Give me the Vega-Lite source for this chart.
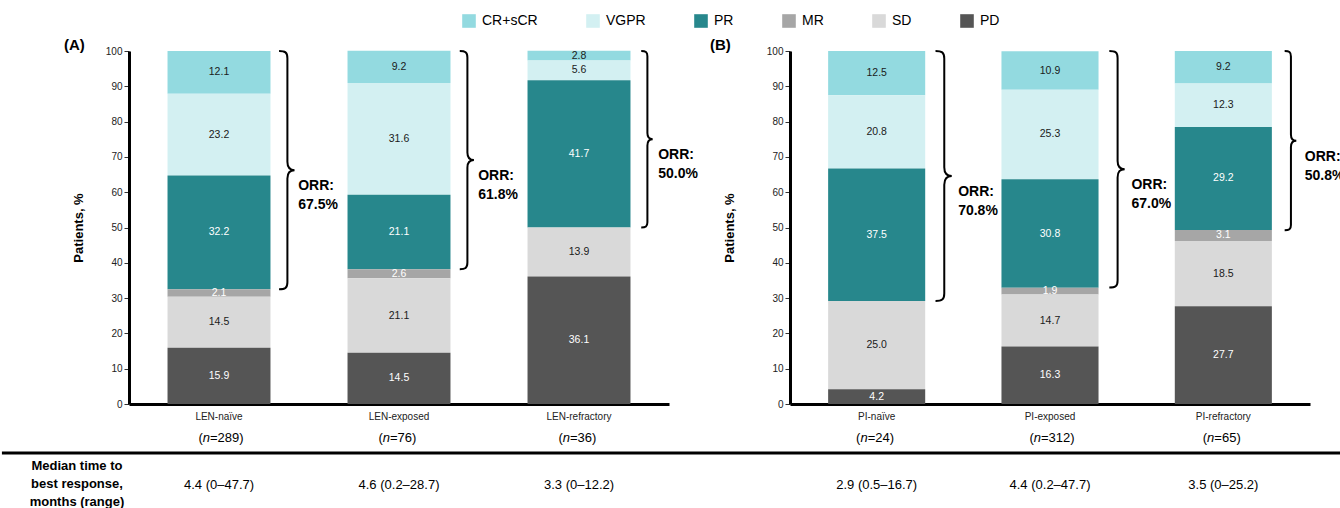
{
  "$schema": "https://vega.github.io/schema/vega-lite/v6.json",
  "padding": {"left": 0, "top": 14, "right": 0, "bottom": 0},
  "background": "white",
  "bounds": "flush",
  "spacing": 121,
  "config": {
    "font": "Liberation Sans",
    "view": {"stroke": null},
    "axis": {"labelFont": "Liberation Sans", "titleFont": "Liberation Sans", "grid": false},
    "axisY": {"domainWidth": 3, "domainColor": "black", "tickSize": 5, "tickColor": "#333", "tickWidth": 1, "labelFontSize": 10, "labelColor": "#222", "labelPadding": 2, "titleFontSize": 13, "titleFontWeight": "bold", "titleColor": "black", "tickCount": 11, "labelOverlap": false, "grid": false},
    "axisX": {"domainWidth": 3, "domainColor": "black", "ticks": false, "labelFontSize": 10, "labelPadding": 7, "labelColor": "#222", "labelAngle": 0, "grid": false},
    "legend": {"labelFont": "Liberation Sans"}
  },
  "resolve": {"scale": {"color": "shared", "size": "shared"}},
  "datasets": {
    "resp": [
      {"panel": "A", "group": "LEN-naïve", "cat": "CR+sCR", "value": 12.1},
      {"panel": "A", "group": "LEN-naïve", "cat": "VGPR", "value": 23.2},
      {"panel": "A", "group": "LEN-naïve", "cat": "PR", "value": 32.2},
      {"panel": "A", "group": "LEN-naïve", "cat": "MR", "value": 2.1},
      {"panel": "A", "group": "LEN-naïve", "cat": "SD", "value": 14.5},
      {"panel": "A", "group": "LEN-naïve", "cat": "PD", "value": 15.9},
      {"panel": "A", "group": "LEN-exposed", "cat": "CR+sCR", "value": 9.2},
      {"panel": "A", "group": "LEN-exposed", "cat": "VGPR", "value": 31.6},
      {"panel": "A", "group": "LEN-exposed", "cat": "PR", "value": 21.1},
      {"panel": "A", "group": "LEN-exposed", "cat": "MR", "value": 2.6},
      {"panel": "A", "group": "LEN-exposed", "cat": "SD", "value": 21.1},
      {"panel": "A", "group": "LEN-exposed", "cat": "PD", "value": 14.5},
      {"panel": "A", "group": "LEN-refractory", "cat": "CR+sCR", "value": 2.8},
      {"panel": "A", "group": "LEN-refractory", "cat": "VGPR", "value": 5.6},
      {"panel": "A", "group": "LEN-refractory", "cat": "PR", "value": 41.7},
      {"panel": "A", "group": "LEN-refractory", "cat": "SD", "value": 13.9},
      {"panel": "A", "group": "LEN-refractory", "cat": "PD", "value": 36.1},
      {"panel": "B", "group": "PI-naïve", "cat": "CR+sCR", "value": 12.5},
      {"panel": "B", "group": "PI-naïve", "cat": "VGPR", "value": 20.8},
      {"panel": "B", "group": "PI-naïve", "cat": "PR", "value": 37.5},
      {"panel": "B", "group": "PI-naïve", "cat": "SD", "value": 25.0},
      {"panel": "B", "group": "PI-naïve", "cat": "PD", "value": 4.2},
      {"panel": "B", "group": "PI-exposed", "cat": "CR+sCR", "value": 10.9},
      {"panel": "B", "group": "PI-exposed", "cat": "VGPR", "value": 25.3},
      {"panel": "B", "group": "PI-exposed", "cat": "PR", "value": 30.8},
      {"panel": "B", "group": "PI-exposed", "cat": "MR", "value": 1.9},
      {"panel": "B", "group": "PI-exposed", "cat": "SD", "value": 14.7},
      {"panel": "B", "group": "PI-exposed", "cat": "PD", "value": 16.3},
      {"panel": "B", "group": "PI-refractory", "cat": "CR+sCR", "value": 9.2},
      {"panel": "B", "group": "PI-refractory", "cat": "VGPR", "value": 12.3},
      {"panel": "B", "group": "PI-refractory", "cat": "PR", "value": 29.2},
      {"panel": "B", "group": "PI-refractory", "cat": "MR", "value": 3.1},
      {"panel": "B", "group": "PI-refractory", "cat": "SD", "value": 18.5},
      {"panel": "B", "group": "PI-refractory", "cat": "PD", "value": 27.7}
    ],
    "groups": [
      {"panel": "A", "group": "LEN-naïve", "n": "289", "orr": 67.5, "median": "4.4 (0–47.7)"},
      {"panel": "A", "group": "LEN-exposed", "n": "76", "orr": 61.8, "median": "4.6 (0.2–28.7)"},
      {"panel": "A", "group": "LEN-refractory", "n": "36", "orr": 50.0, "median": "3.3 (0–12.2)"},
      {"panel": "B", "group": "PI-naïve", "n": "24", "orr": 70.8, "median": "2.9 (0.5–16.7)"},
      {"panel": "B", "group": "PI-exposed", "n": "312", "orr": 67.0, "median": "4.4 (0.2–47.7)"},
      {"panel": "B", "group": "PI-refractory", "n": "65", "orr": 50.8, "median": "3.5 (0–25.2)"}
    ],
    "rowlabel": [{"label": "Median time to\nbest response,\nmonths (range)"}]
  },
  "hconcat": [
    {
      "width": 540,
      "height": 353,
      "title": {"text": "(A)", "anchor": "start", "frame": "group", "dx": -65, "dy": 7, "fontSize": 15, "fontWeight": "bold", "color": "black", "font": "Liberation Sans", "offset": 0},
      "resolve": {"axis": {"x": "independent", "y": "independent"}},
      "layer": [
        {
          "data": {"name": "resp"},
          "transform": [
            {"filter": "datum.panel === 'A'"},
            {"calculate": "indexof(['PD','SD','MR','PR','VGPR','CR+sCR'], datum.cat)", "as": "rank"},
            {"stack": "value", "groupby": ["group"], "sort": [{"field": "rank", "order": "ascending"}], "as": ["y0", "y1"]}
          ],
          "mark": {"type": "bar", "width": {"band": 0.572}},
          "encoding": {
            "x": {"field": "group", "type": "nominal", "title": null,
                  "scale": {"domain": ["LEN-naïve", "LEN-exposed", "LEN-refractory"], "paddingInner": 0, "paddingOuter": 0},
                  "axis": {"domain": true, "domainWidth": 3, "domainColor": "black", "ticks": false, "labelFontSize": 10, "labelPadding": 7, "labelColor": "#222", "labelAngle": 0, "title": null}},
            "y": {"field": "y0", "type": "quantitative", "title": "Patients, %",
                  "scale": {"domain": [0, 100], "nice": false},
                  "axis": {"title": "Patients, %", "titlePadding": 20, "values": [0, 10, 20, 30, 40, 50, 60, 70, 80, 90, 100], "tickCount": 11, "labelOverlap": false, "domainWidth": 3}},
            "y2": {"field": "y1"},
            "color": {"field": "cat", "type": "nominal",
                      "scale": {"domain": ["CR+sCR", "VGPR", "PR", "MR", "SD", "PD"], "range": ["#93dae0", "#d3f0f2", "#27878c", "#a6a6a6", "#d9d9d9", "#555555"]},
                      "legend": {"orient": "none", "legendX": 333, "legendY": -37, "direction": "horizontal", "columns": 6, "title": null, "symbolType": "square", "symbolSize": 185, "symbolStrokeWidth": 0, "labelFontSize": 14, "labelColor": "black", "labelOffset": 6, "columnPadding": 48}}
          }
        },
        {
          "data": {"name": "resp"},
          "transform": [
            {"filter": "datum.panel === 'A'"},
            {"calculate": "indexof(['PD','SD','MR','PR','VGPR','CR+sCR'], datum.cat)", "as": "rank"},
            {"stack": "value", "groupby": ["group"], "sort": [{"field": "rank", "order": "ascending"}], "as": ["y0", "y1"]},
            {"calculate": "(datum.y0 + datum.y1) / 2", "as": "ymid"}
          ],
          "mark": {"type": "text", "fontSize": 10.5, "baseline": "middle"},
          "encoding": {
            "x": {"field": "group", "type": "nominal", "axis": null, "scale": {"domain": ["LEN-naïve", "LEN-exposed", "LEN-refractory"], "paddingInner": 0, "paddingOuter": 0}},
            "y": {"field": "ymid", "type": "quantitative", "axis": null, "scale": {"domain": [0, 100], "nice": false}},
            "text": {"field": "value", "type": "quantitative", "format": ".1f"},
            "color": {"condition": {"test": "datum.cat === 'PR' || datum.cat === 'PD' || datum.cat === 'MR'", "value": "white"}, "value": "#1a1a1a"}
          }
        },
        {
          "data": {"name": "groups"},
          "transform": [
            {"filter": "datum.panel === 'A'"},
            {"calculate": "100 - datum.orr / 2", "as": "mid"}
          ],
          "mark": {"type": "point", "shape": "M-0.07,-1 C-0.02,-1 0,-0.99 0,-0.94 L0,-0.07 C0,-0.02 0.02,0 0.06,0 C0.02,0 0,0.02 0,0.07 L0,0.94 C0,0.99 -0.02,1 -0.07,1", "filled": false, "color": "black", "strokeWidth": 2, "opacity": 1},
          "encoding": {
            "x": {"field": "group", "type": "nominal", "axis": null, "bandPosition": 0.88, "scale": {"domain": ["LEN-naïve", "LEN-exposed", "LEN-refractory"], "paddingInner": 0, "paddingOuter": 0}},
            "y": {"field": "mid", "type": "quantitative", "axis": null, "scale": {"domain": [0, 100], "nice": false}},
            "size": {"field": "orr", "type": "quantitative", "scale": {"type": "pow", "exponent": 2, "domain": [0, 100], "range": [0, 124609]}, "legend": null}
          }
        },
        {
          "data": {"name": "groups"},
          "transform": [
            {"filter": "datum.panel === 'A'"},
            {"calculate": "100 - datum.orr / 2", "as": "mid"},
            {"calculate": "'ORR:\\n' + format(datum.orr, '.1f') + '%'", "as": "orrlab"}
          ],
          "mark": {"type": "text", "align": "left", "baseline": "top", "dy": 9, "fontSize": 14, "fontWeight": "bold", "lineBreak": "\n", "lineHeight": 19, "color": "black"},
          "encoding": {
            "x": {"field": "group", "type": "nominal", "axis": null, "bandPosition": 0.94, "scale": {"domain": ["LEN-naïve", "LEN-exposed", "LEN-refractory"], "paddingInner": 0, "paddingOuter": 0}},
            "y": {"field": "mid", "type": "quantitative", "axis": null, "scale": {"domain": [0, 100], "nice": false}},
            "text": {"field": "orrlab"}
          }
        },
        {
          "data": {"name": "groups"},
          "transform": [{"filter": "datum.panel === 'A'"}],
          "mark": {"type": "text", "align": "right", "baseline": "middle", "dx": -16.2, "fontSize": 13, "color": "black"},
          "encoding": {
            "x": {"field": "group", "type": "nominal", "axis": null, "scale": {"domain": ["LEN-naïve", "LEN-exposed", "LEN-refractory"], "paddingInner": 0, "paddingOuter": 0}},
            "y": {"datum": -9.6, "type": "quantitative", "axis": null, "scale": {"domain": [0, 100], "nice": false}},
            "text": {"value": "("}
          }
        },
        {
          "data": {"name": "groups"},
          "transform": [{"filter": "datum.panel === 'A'"}],
          "mark": {"type": "text", "align": "right", "baseline": "middle", "dx": -9, "fontSize": 13, "fontStyle": "italic", "color": "black"},
          "encoding": {
            "x": {"field": "group", "type": "nominal", "axis": null, "scale": {"domain": ["LEN-naïve", "LEN-exposed", "LEN-refractory"], "paddingInner": 0, "paddingOuter": 0}},
            "y": {"datum": -9.6, "type": "quantitative", "axis": null, "scale": {"domain": [0, 100], "nice": false}},
            "text": {"value": "n"}
          }
        },
        {
          "data": {"name": "groups"},
          "transform": [
            {"filter": "datum.panel === 'A'"},
            {"calculate": "'=' + datum.n + ')'", "as": "nlab"}
          ],
          "mark": {"type": "text", "align": "left", "baseline": "middle", "dx": -9, "fontSize": 13, "color": "black"},
          "encoding": {
            "x": {"field": "group", "type": "nominal", "axis": null, "scale": {"domain": ["LEN-naïve", "LEN-exposed", "LEN-refractory"], "paddingInner": 0, "paddingOuter": 0}},
            "y": {"datum": -9.6, "type": "quantitative", "axis": null, "scale": {"domain": [0, 100], "nice": false}},
            "text": {"field": "nlab"}
          }
        },
        {
          "data": {"name": "groups"},
          "transform": [{"filter": "datum.panel === 'A'"}],
          "mark": {"type": "text", "align": "center", "baseline": "middle", "fontSize": 13, "color": "black"},
          "encoding": {
            "x": {"field": "group", "type": "nominal", "axis": null, "scale": {"domain": ["LEN-naïve", "LEN-exposed", "LEN-refractory"], "paddingInner": 0, "paddingOuter": 0}},
            "y": {"datum": -23, "type": "quantitative", "axis": null, "scale": {"domain": [0, 100], "nice": false}},
            "text": {"field": "median"}
          }
        },
        {
          "data": {"name": "rowlabel"},
          "mark": {"type": "text", "align": "center", "baseline": "middle", "fontSize": 13, "fontWeight": "bold", "lineBreak": "\n", "lineHeight": 18, "color": "black"},
          "encoding": {
            "x": {"datum": "LEN-naïve", "type": "nominal", "axis": null, "bandPosition": -0.289, "scale": {"domain": ["LEN-naïve", "LEN-exposed", "LEN-refractory"], "paddingInner": 0, "paddingOuter": 0}},
            "y": {"datum": -17.7, "type": "quantitative", "axis": null, "scale": {"domain": [0, 100], "nice": false}},
            "text": {"field": "label"}
          }
        },
        {
          "data": {"name": "rowlabel"},
          "mark": {"type": "rule", "strokeWidth": 3, "color": "black"},
          "encoding": {
            "x": {"datum": "LEN-naïve", "type": "nominal", "axis": null, "bandPosition": -0.706, "scale": {"domain": ["LEN-naïve", "LEN-exposed", "LEN-refractory"], "paddingInner": 0, "paddingOuter": 0}},
            "x2": {"datum": "LEN-refractory", "bandPosition": 4.74},
            "y": {"datum": -13.9, "type": "quantitative", "axis": null, "scale": {"domain": [0, 100], "nice": false}}
          }
        }
      ]
    },
    {
      "width": 520,
      "height": 353,
      "title": {"text": "(B)", "anchor": "start", "frame": "group", "dx": -80, "dy": 7, "fontSize": 15, "fontWeight": "bold", "color": "black", "font": "Liberation Sans", "offset": 0},
      "resolve": {"axis": {"x": "independent", "y": "independent"}},
      "layer": [
        {
          "data": {"name": "resp"},
          "transform": [
            {"filter": "datum.panel === 'B'"},
            {"calculate": "indexof(['PD','SD','MR','PR','VGPR','CR+sCR'], datum.cat)", "as": "rank"},
            {"stack": "value", "groupby": ["group"], "sort": [{"field": "rank", "order": "ascending"}], "as": ["y0", "y1"]}
          ],
          "mark": {"type": "bar", "width": {"band": 0.56}},
          "encoding": {
            "x": {"field": "group", "type": "nominal", "title": null,
                  "scale": {"domain": ["PI-naïve", "PI-exposed", "PI-refractory"], "paddingInner": 0, "paddingOuter": 0},
                  "axis": {"domain": true, "domainWidth": 3, "domainColor": "black", "ticks": false, "labelFontSize": 10, "labelPadding": 7, "labelColor": "#222", "labelAngle": 0, "title": null}},
            "y": {"field": "y0", "type": "quantitative", "title": "Patients, %",
                  "scale": {"domain": [0, 100], "nice": false},
                  "axis": {"title": "Patients, %", "titlePadding": 30, "values": [0, 10, 20, 30, 40, 50, 60, 70, 80, 90, 100], "tickCount": 11, "labelOverlap": false, "domainWidth": 3}},
            "y2": {"field": "y1"},
            "color": {"field": "cat", "type": "nominal",
                      "scale": {"domain": ["CR+sCR", "VGPR", "PR", "MR", "SD", "PD"], "range": ["#93dae0", "#d3f0f2", "#27878c", "#a6a6a6", "#d9d9d9", "#555555"]}}
          }
        },
        {
          "data": {"name": "resp"},
          "transform": [
            {"filter": "datum.panel === 'B'"},
            {"calculate": "indexof(['PD','SD','MR','PR','VGPR','CR+sCR'], datum.cat)", "as": "rank"},
            {"stack": "value", "groupby": ["group"], "sort": [{"field": "rank", "order": "ascending"}], "as": ["y0", "y1"]},
            {"calculate": "(datum.y0 + datum.y1) / 2", "as": "ymid"}
          ],
          "mark": {"type": "text", "fontSize": 10.5, "baseline": "middle"},
          "encoding": {
            "x": {"field": "group", "type": "nominal", "axis": null, "scale": {"domain": ["PI-naïve", "PI-exposed", "PI-refractory"], "paddingInner": 0, "paddingOuter": 0}},
            "y": {"field": "ymid", "type": "quantitative", "axis": null, "scale": {"domain": [0, 100], "nice": false}},
            "text": {"field": "value", "type": "quantitative", "format": ".1f"},
            "color": {"condition": {"test": "datum.cat === 'PR' || datum.cat === 'PD' || datum.cat === 'MR'", "value": "white"}, "value": "#1a1a1a"}
          }
        },
        {
          "data": {"name": "groups"},
          "transform": [
            {"filter": "datum.panel === 'B'"},
            {"calculate": "100 - datum.orr / 2", "as": "mid"}
          ],
          "mark": {"type": "point", "shape": "M-0.07,-1 C-0.02,-1 0,-0.99 0,-0.94 L0,-0.07 C0,-0.02 0.02,0 0.06,0 C0.02,0 0,0.02 0,0.07 L0,0.94 C0,0.99 -0.02,1 -0.07,1", "filled": false, "color": "black", "strokeWidth": 2, "opacity": 1},
          "encoding": {
            "x": {"field": "group", "type": "nominal", "axis": null, "bandPosition": 0.89, "scale": {"domain": ["PI-naïve", "PI-exposed", "PI-refractory"], "paddingInner": 0, "paddingOuter": 0}},
            "y": {"field": "mid", "type": "quantitative", "axis": null, "scale": {"domain": [0, 100], "nice": false}},
            "size": {"field": "orr", "type": "quantitative", "scale": {"type": "pow", "exponent": 2, "domain": [0, 100], "range": [0, 124609]}, "legend": null}
          }
        },
        {
          "data": {"name": "groups"},
          "transform": [
            {"filter": "datum.panel === 'B'"},
            {"calculate": "100 - datum.orr / 2", "as": "mid"},
            {"calculate": "'ORR:\\n' + format(datum.orr, '.1f') + '%'", "as": "orrlab"}
          ],
          "mark": {"type": "text", "align": "left", "baseline": "top", "dy": 9, "fontSize": 14, "fontWeight": "bold", "lineBreak": "\n", "lineHeight": 19, "color": "black"},
          "encoding": {
            "x": {"field": "group", "type": "nominal", "axis": null, "bandPosition": 0.97, "scale": {"domain": ["PI-naïve", "PI-exposed", "PI-refractory"], "paddingInner": 0, "paddingOuter": 0}},
            "y": {"field": "mid", "type": "quantitative", "axis": null, "scale": {"domain": [0, 100], "nice": false}},
            "text": {"field": "orrlab"}
          }
        },
        {
          "data": {"name": "groups"},
          "transform": [{"filter": "datum.panel === 'B'"}],
          "mark": {"type": "text", "align": "right", "baseline": "middle", "dx": -16.2, "fontSize": 13, "color": "black"},
          "encoding": {
            "x": {"field": "group", "type": "nominal", "axis": null, "scale": {"domain": ["PI-naïve", "PI-exposed", "PI-refractory"], "paddingInner": 0, "paddingOuter": 0}},
            "y": {"datum": -9.6, "type": "quantitative", "axis": null, "scale": {"domain": [0, 100], "nice": false}},
            "text": {"value": "("}
          }
        },
        {
          "data": {"name": "groups"},
          "transform": [{"filter": "datum.panel === 'B'"}],
          "mark": {"type": "text", "align": "right", "baseline": "middle", "dx": -9, "fontSize": 13, "fontStyle": "italic", "color": "black"},
          "encoding": {
            "x": {"field": "group", "type": "nominal", "axis": null, "scale": {"domain": ["PI-naïve", "PI-exposed", "PI-refractory"], "paddingInner": 0, "paddingOuter": 0}},
            "y": {"datum": -9.6, "type": "quantitative", "axis": null, "scale": {"domain": [0, 100], "nice": false}},
            "text": {"value": "n"}
          }
        },
        {
          "data": {"name": "groups"},
          "transform": [
            {"filter": "datum.panel === 'B'"},
            {"calculate": "'=' + datum.n + ')'", "as": "nlab"}
          ],
          "mark": {"type": "text", "align": "left", "baseline": "middle", "dx": -9, "fontSize": 13, "color": "black"},
          "encoding": {
            "x": {"field": "group", "type": "nominal", "axis": null, "scale": {"domain": ["PI-naïve", "PI-exposed", "PI-refractory"], "paddingInner": 0, "paddingOuter": 0}},
            "y": {"datum": -9.6, "type": "quantitative", "axis": null, "scale": {"domain": [0, 100], "nice": false}},
            "text": {"field": "nlab"}
          }
        },
        {
          "data": {"name": "groups"},
          "transform": [{"filter": "datum.panel === 'B'"}],
          "mark": {"type": "text", "align": "center", "baseline": "middle", "fontSize": 13, "color": "black"},
          "encoding": {
            "x": {"field": "group", "type": "nominal", "axis": null, "scale": {"domain": ["PI-naïve", "PI-exposed", "PI-refractory"], "paddingInner": 0, "paddingOuter": 0}},
            "y": {"datum": -23, "type": "quantitative", "axis": null, "scale": {"domain": [0, 100], "nice": false}},
            "text": {"field": "median"}
          }
        }
      ]
    }
  ]
}
